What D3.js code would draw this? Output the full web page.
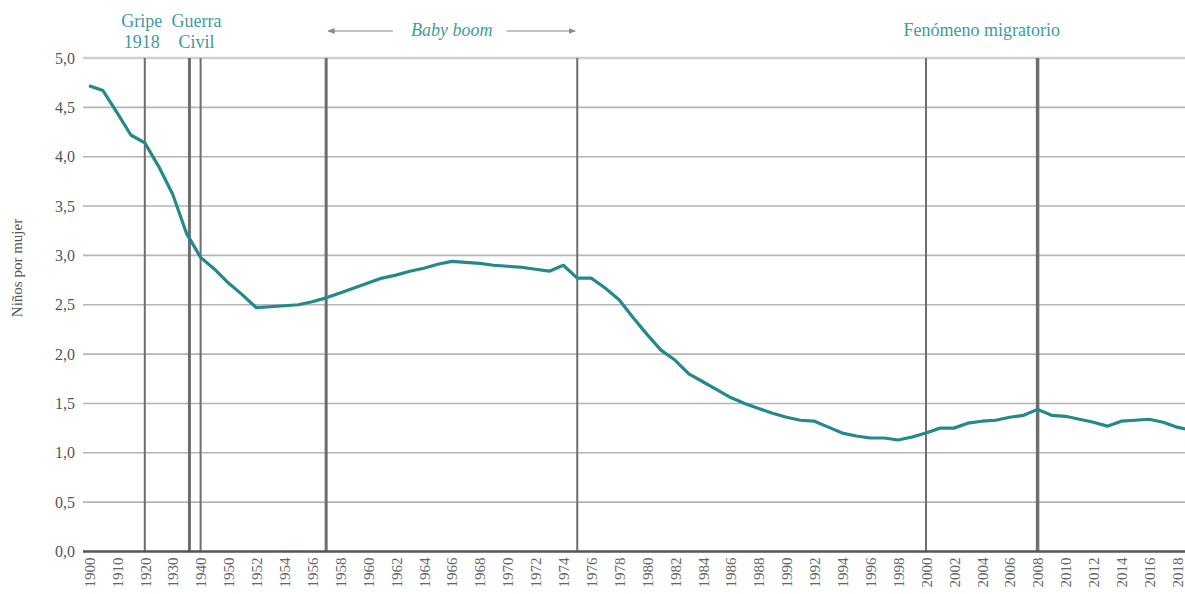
<html>
<head>
<meta charset="utf-8">
<script src="https://d3js.org/d3.v7.min.js"></script>
<style>
  body { margin: 0; background: #fff; }
  text { font-family: "Liberation Serif", "Times New Roman", serif; }
</style>
</head>
<body>
<svg id="chart" width="1185" height="594"></svg>

<script>
// Fecundidad en España: niños por mujer
var years = [1900, 1905, 1910, 1915, 1920, 1925, 1930, 1935, 1940, 1945, 1950,
  1951, 1952, 1953, 1954, 1955, 1956, 1957, 1958, 1959, 1960,
  1961, 1962, 1963, 1964, 1965, 1966, 1967, 1968, 1969, 1970,
  1971, 1972, 1973, 1974, 1975, 1976, 1977, 1978, 1979, 1980,
  1981, 1982, 1983, 1984, 1985, 1986, 1987, 1988, 1989, 1990,
  1991, 1992, 1993, 1994, 1995, 1996, 1997, 1998, 1999, 2000,
  2001, 2002, 2003, 2004, 2005, 2006, 2007, 2008, 2009, 2010,
  2011, 2012, 2013, 2014, 2015, 2016, 2017, 2018, 2019];

var tfr = [4.72, 4.67, 4.45, 4.22, 4.14, 3.90, 3.62, 3.22, 2.98, 2.86, 2.72,
  2.60, 2.47, 2.48, 2.49, 2.50, 2.53, 2.57, 2.62, 2.67, 2.72,
  2.77, 2.80, 2.84, 2.87, 2.91, 2.94, 2.93, 2.92, 2.90, 2.89,
  2.88, 2.86, 2.84, 2.90, 2.77, 2.77, 2.67, 2.55, 2.37, 2.20,
  2.04, 1.94, 1.80, 1.72, 1.64, 1.56, 1.50, 1.45, 1.40, 1.36,
  1.33, 1.32, 1.26, 1.20, 1.17, 1.15, 1.15, 1.13, 1.16, 1.20,
  1.25, 1.25, 1.30, 1.32, 1.33, 1.36, 1.38, 1.44, 1.38, 1.37,
  1.34, 1.31, 1.27, 1.32, 1.33, 1.34, 1.31, 1.26, 1.23];

var tickYears = [1900, 1910, 1920, 1930, 1940, 1950,
  1952, 1954, 1956, 1958, 1960, 1962, 1964, 1966, 1968, 1970,
  1972, 1974, 1976, 1978, 1980, 1982, 1984, 1986, 1988, 1990,
  1992, 1994, 1996, 1998, 2000, 2002, 2004, 2006, 2008, 2010,
  2012, 2014, 2016, 2018];

var yTicks = [0, 0.5, 1, 1.5, 2, 2.5, 3, 3.5, 4, 4.5, 5];

// lineas verticales de eventos
var eventYears = [1920, 1936, 1940, 1957, 1975, 2000, 2008];
var eventWidths = [2, 3, 2, 3, 2, 2, 3.5];

var svg = d3.select("#chart");
var mLeft = 83, mRight = 1185, mTop = 58, mBottom = 551.5;
var teal = "#23898b";

// el eje x es por categorias: decadas hasta 1950 y luego cada 2 anos
var step = 27.9;
var x = d3.scaleLinear()
  .domain([1900, 1950, 2018])
  .range([89, 89 + 5 * step, 89 + 39 * step]);

var y = d3.scaleLinear().domain([0, 5]).range([mBottom, mTop]);

svg.append("defs").append("clipPath").attr("id", "clip")
  .append("rect").attr("x", mLeft).attr("y", 0)
  .attr("width", mRight - mLeft).attr("height", mBottom + 2);

// rejilla horizontal
svg.append("g").selectAll("line")
  .data(yTicks.filter(function(d) { return d > 0; }))
  .enter().append("line")
  .attr("x1", mLeft).attr("x2", mRight)
  .attr("y1", function(d) { return y(d); })
  .attr("y2", function(d) { return y(d); })
  .attr("stroke", function(d) { return d == 5 ? "#cfcfcf" : "#b5b5b5"; })
  .attr("stroke-width", function(d) { return d == 5 ? 2.5 : 1.6; });

// eventos
svg.append("g").selectAll("line")
  .data(eventYears)
  .enter().append("line")
  .attr("x1", function(d) { return x(d); })
  .attr("x2", function(d) { return x(d); })
  .attr("y1", mTop).attr("y2", mBottom)
  .attr("stroke", "#6e6e6e")
  .attr("stroke-width", function(d, i) { return eventWidths[i]; });

// eje y
var yAxis = svg.append("g")
  .attr("transform", "translate(" + mLeft + ",0)")
  .call(d3.axisLeft(y).tickValues(yTicks).tickSize(0).tickPadding(8)
    .tickFormat(function(d) { return d3.format(".1f")(d).replace(".", ","); }));
yAxis.select(".domain").remove();
yAxis.selectAll("text").attr("font-size", 16).attr("fill", "#555")
  .attr("font-family", "Liberation Serif");

// eje x
var xAxis = svg.append("g")
  .attr("transform", "translate(0," + mBottom + ")")
  .call(d3.axisBottom(x).tickValues(tickYears).tickSize(0).tickFormat(d3.format("d")));
xAxis.select(".domain").remove();
xAxis.selectAll("text")
  .attr("font-size", 15).attr("fill", "#666")
  .attr("font-family", "Liberation Serif")
  .attr("text-anchor", "end")
  .attr("transform", "rotate(-90)")
  .attr("x", -6).attr("y", 0).attr("dy", "0.35em");

svg.append("line")
  .attr("x1", mLeft).attr("x2", mRight)
  .attr("y1", mBottom).attr("y2", mBottom)
  .attr("stroke", "#555").attr("stroke-width", 2.5);

// serie
var line = d3.line()
  .x(function(d) { return x(d[0]); })
  .y(function(d) { return y(d[1]); });

svg.append("path")
  .datum(d3.zip(years, tfr))
  .attr("clip-path", "url(#clip)")
  .attr("d", line)
  .attr("fill", "none")
  .attr("stroke", teal)
  .attr("stroke-width", 3.2)
  .attr("stroke-linejoin", "round");

// titulo del eje y
svg.append("text")
  .attr("transform", "translate(22,268) rotate(-90)")
  .attr("text-anchor", "middle")
  .attr("font-size", 15).attr("fill", "#555")
  .text("Niños por mujer");

// anotaciones
var notes = svg.append("g").attr("fill", "#3f9c9c").attr("font-size", 18)
  .attr("text-anchor", "middle");
notes.append("text").attr("x", x(1920) - 3).attr("y", 27).text("Gripe");
notes.append("text").attr("x", x(1920) - 3).attr("y", 48).text("1918");
notes.append("text").attr("x", x(1938.5)).attr("y", 27).text("Guerra");
notes.append("text").attr("x", x(1938.5)).attr("y", 48).text("Civil");
notes.append("text").attr("x", x(1966)).attr("y", 36)
  .attr("font-style", "italic").text("Baby boom");
notes.append("text").attr("x", x(2004)).attr("y", 36).text("Fenómeno migratorio");

svg.append("defs").append("marker")
  .attr("id", "arrow").attr("viewBox", "0 0 10 10")
  .attr("refX", 9).attr("refY", 5)
  .attr("markerWidth", 6).attr("markerHeight", 6)
  .attr("orient", "auto-start-reverse")
  .append("path").attr("d", "M0,1L10,5L0,9Z").attr("fill", "#888");

svg.append("line")
  .attr("x1", x(1962) - 3).attr("x2", x(1957) + 2)
  .attr("y1", 31).attr("y2", 31)
  .attr("stroke", "#888").attr("stroke-width", 1.2)
  .attr("marker-end", "url(#arrow)");
svg.append("line")
  .attr("x1", x(1970) - 1).attr("x2", x(1975) - 2)
  .attr("y1", 31).attr("y2", 31)
  .attr("stroke", "#888").attr("stroke-width", 1.2)
  .attr("marker-end", "url(#arrow)");
</script>
</body>
</html>
